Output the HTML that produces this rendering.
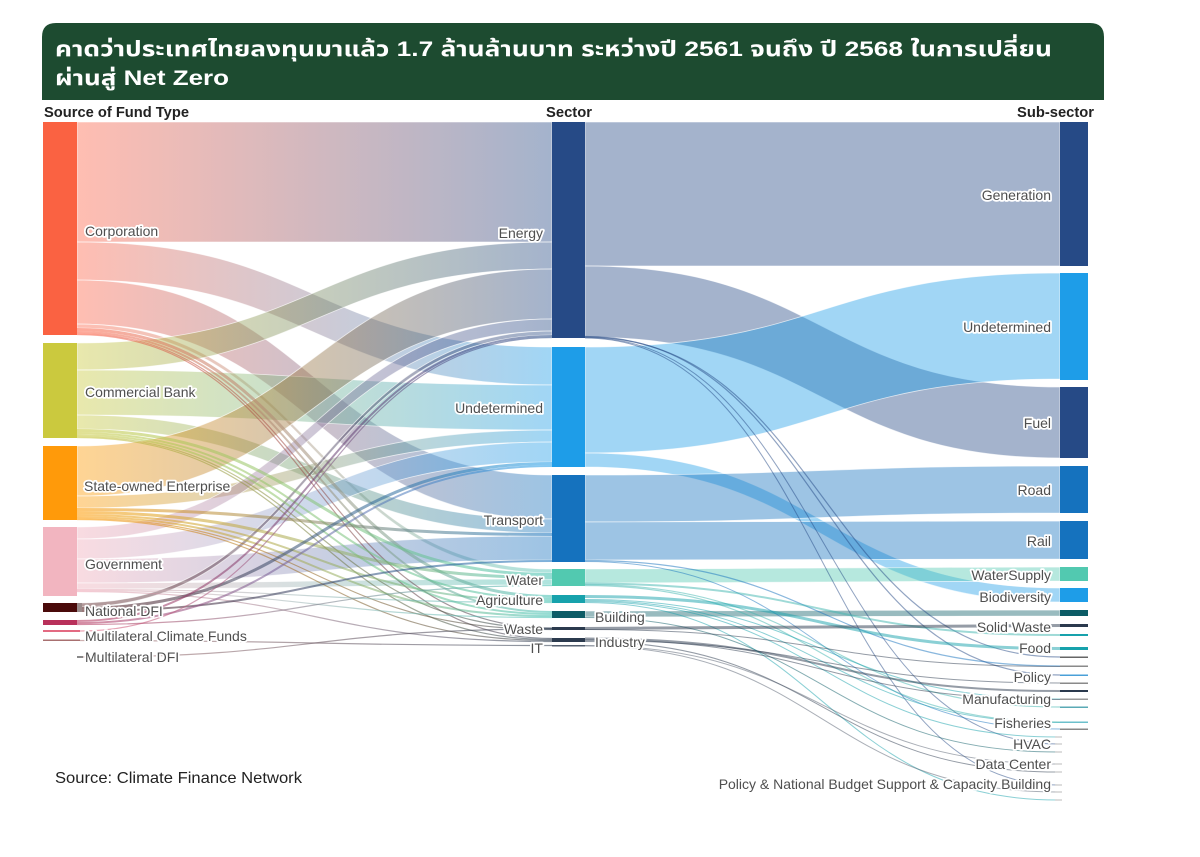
<!DOCTYPE html>
<html>
<head>
<meta charset="utf-8">
<style>
html,body{margin:0;padding:0;background:#fff;}
svg{display:block;}
.lbl{font-family:"Liberation Sans",Arial,sans-serif;font-size:14px;fill:#4f4f4f;paint-order:stroke;stroke:#fff;stroke-width:3.5px;stroke-linejoin:round;}
.hdr{font-family:"Liberation Sans",Arial,sans-serif;font-size:14.5px;font-weight:bold;fill:#222;}
</style>
</head>
<body>
<svg width="1200" height="857" viewBox="0 0 1200 857" xmlns="http://www.w3.org/2000/svg">
<defs>
<linearGradient id="cE" gradientUnits="userSpaceOnUse" x1="77" y1="0" x2="552" y2="0"><stop offset="0" stop-color="#ff6347"/><stop offset="1" stop-color="#264a86"/></linearGradient>
<linearGradient id="cU" gradientUnits="userSpaceOnUse" x1="77" y1="0" x2="552" y2="0"><stop offset="0" stop-color="#ff6347"/><stop offset="1" stop-color="#1e9de8"/></linearGradient>
<linearGradient id="cT" gradientUnits="userSpaceOnUse" x1="77" y1="0" x2="552" y2="0"><stop offset="0" stop-color="#ff6347"/><stop offset="1" stop-color="#1572be"/></linearGradient>
<linearGradient id="cW" gradientUnits="userSpaceOnUse" x1="77" y1="0" x2="552" y2="0"><stop offset="0" stop-color="#ff6347"/><stop offset="1" stop-color="#3fbfb0"/></linearGradient>
<linearGradient id="cD" gradientUnits="userSpaceOnUse" x1="77" y1="0" x2="552" y2="0"><stop offset="0" stop-color="#ff6347"/><stop offset="1" stop-color="#2b3a4e"/></linearGradient>
<linearGradient id="bE" gradientUnits="userSpaceOnUse" x1="77" y1="0" x2="552" y2="0"><stop offset="0" stop-color="#c9c83a"/><stop offset="1" stop-color="#264a86"/></linearGradient>
<linearGradient id="bU" gradientUnits="userSpaceOnUse" x1="77" y1="0" x2="552" y2="0"><stop offset="0" stop-color="#c9c83a"/><stop offset="1" stop-color="#1e9de8"/></linearGradient>
<linearGradient id="bT" gradientUnits="userSpaceOnUse" x1="77" y1="0" x2="552" y2="0"><stop offset="0" stop-color="#c9c83a"/><stop offset="1" stop-color="#1572be"/></linearGradient>
<linearGradient id="bW" gradientUnits="userSpaceOnUse" x1="77" y1="0" x2="552" y2="0"><stop offset="0" stop-color="#c9c83a"/><stop offset="1" stop-color="#3fbfb0"/></linearGradient>
<linearGradient id="bD" gradientUnits="userSpaceOnUse" x1="77" y1="0" x2="552" y2="0"><stop offset="0" stop-color="#c9c83a"/><stop offset="1" stop-color="#2b3a4e"/></linearGradient>
<linearGradient id="sE" gradientUnits="userSpaceOnUse" x1="77" y1="0" x2="552" y2="0"><stop offset="0" stop-color="#ff9a00"/><stop offset="1" stop-color="#264a86"/></linearGradient>
<linearGradient id="sU" gradientUnits="userSpaceOnUse" x1="77" y1="0" x2="552" y2="0"><stop offset="0" stop-color="#ff9a00"/><stop offset="1" stop-color="#1e9de8"/></linearGradient>
<linearGradient id="sT" gradientUnits="userSpaceOnUse" x1="77" y1="0" x2="552" y2="0"><stop offset="0" stop-color="#ff9a00"/><stop offset="1" stop-color="#1572be"/></linearGradient>
<linearGradient id="sW" gradientUnits="userSpaceOnUse" x1="77" y1="0" x2="552" y2="0"><stop offset="0" stop-color="#ff9a00"/><stop offset="1" stop-color="#3fbfb0"/></linearGradient>
<linearGradient id="sD" gradientUnits="userSpaceOnUse" x1="77" y1="0" x2="552" y2="0"><stop offset="0" stop-color="#ff9a00"/><stop offset="1" stop-color="#2b3a4e"/></linearGradient>
<linearGradient id="gE" gradientUnits="userSpaceOnUse" x1="77" y1="0" x2="552" y2="0"><stop offset="0" stop-color="#f0aab8"/><stop offset="1" stop-color="#264a86"/></linearGradient>
<linearGradient id="gU" gradientUnits="userSpaceOnUse" x1="77" y1="0" x2="552" y2="0"><stop offset="0" stop-color="#f0aab8"/><stop offset="1" stop-color="#1e9de8"/></linearGradient>
<linearGradient id="gT" gradientUnits="userSpaceOnUse" x1="77" y1="0" x2="552" y2="0"><stop offset="0" stop-color="#f0aab8"/><stop offset="1" stop-color="#1572be"/></linearGradient>
<linearGradient id="gW" gradientUnits="userSpaceOnUse" x1="77" y1="0" x2="552" y2="0"><stop offset="0" stop-color="#f0aab8"/><stop offset="1" stop-color="#3fbfb0"/></linearGradient>
<linearGradient id="gD" gradientUnits="userSpaceOnUse" x1="77" y1="0" x2="552" y2="0"><stop offset="0" stop-color="#f0aab8"/><stop offset="1" stop-color="#2b3a4e"/></linearGradient>
<linearGradient id="nE" gradientUnits="userSpaceOnUse" x1="77" y1="0" x2="552" y2="0"><stop offset="0" stop-color="#4a0c0c"/><stop offset="1" stop-color="#264a86"/></linearGradient>
<linearGradient id="nU" gradientUnits="userSpaceOnUse" x1="77" y1="0" x2="552" y2="0"><stop offset="0" stop-color="#4a0c0c"/><stop offset="1" stop-color="#1e9de8"/></linearGradient>
<linearGradient id="nT" gradientUnits="userSpaceOnUse" x1="77" y1="0" x2="552" y2="0"><stop offset="0" stop-color="#4a0c0c"/><stop offset="1" stop-color="#1572be"/></linearGradient>
<linearGradient id="oE" gradientUnits="userSpaceOnUse" x1="77" y1="0" x2="552" y2="0"><stop offset="0" stop-color="#b5305a"/><stop offset="1" stop-color="#264a86"/></linearGradient>
<linearGradient id="oU" gradientUnits="userSpaceOnUse" x1="77" y1="0" x2="552" y2="0"><stop offset="0" stop-color="#b5305a"/><stop offset="1" stop-color="#1e9de8"/></linearGradient>
<linearGradient id="oW" gradientUnits="userSpaceOnUse" x1="77" y1="0" x2="552" y2="0"><stop offset="0" stop-color="#b5305a"/><stop offset="1" stop-color="#3fbfb0"/></linearGradient>
<linearGradient id="mE" gradientUnits="userSpaceOnUse" x1="77" y1="0" x2="552" y2="0"><stop offset="0" stop-color="#e05a78"/><stop offset="1" stop-color="#264a86"/></linearGradient>
<linearGradient id="mD" gradientUnits="userSpaceOnUse" x1="77" y1="0" x2="552" y2="0"><stop offset="0" stop-color="#a87070"/><stop offset="1" stop-color="#2b3a4e"/></linearGradient>
</defs>

<rect x="0" y="0" width="1200" height="857" fill="#ffffff"/>

<!-- Header -->
<path d="M42,100 L42,37 Q42,23 56,23 L1090,23 Q1104,23 1104,37 L1104,100 Z" fill="#1d4b30"/>
<text x="55" y="56" font-family="'Liberation Sans','Noto Sans Thai','Tlwg Typo','Loma','Garuda',sans-serif" font-size="21" font-weight="bold" fill="#ffffff" textLength="997" lengthAdjust="spacingAndGlyphs">คาดว่าประเทศไทยลงทุนมาแล้ว 1.7 ล้านล้านบาท ระหว่างปี 2561 จนถึง ปี 2568 ในการเปลี่ยน</text>
<text x="55" y="85" font-family="'Liberation Sans','Noto Sans Thai','Tlwg Typo','Loma','Garuda',sans-serif" font-size="21" font-weight="bold" fill="#ffffff" textLength="174" lengthAdjust="spacingAndGlyphs">ผ่านสู่ Net Zero</text>

<!-- Column headers -->
<text class="hdr" x="44" y="117" textLength="145" lengthAdjust="spacingAndGlyphs">Source of Fund Type</text>
<text class="hdr" x="546" y="117" textLength="46" lengthAdjust="spacingAndGlyphs">Sector</text>
<text class="hdr" x="1017" y="117" textLength="77" lengthAdjust="spacingAndGlyphs">Sub-sector</text>

<!-- Left links (filled) -->
<g fill-opacity="0.42" stroke="#ffffff" stroke-width="0.8" stroke-opacity="0.7">
<path fill="url(#cE)" d="M77,122 L552,122 L552,242 L77,242 Z"/>
<path fill="url(#cU)" d="M77,242 C314.5,242 314.5,347 552,347 L552,385 C314.5,385 314.5,280 77,280 Z"/>
<path fill="url(#cT)" d="M77,280 C314.5,280 314.5,475 552,475 L552,519 C314.5,519 314.5,324 77,324 Z"/>
<path fill="url(#cW)" d="M77,324 C314.5,324 314.5,569 552,569 L552,573 C314.5,573 314.5,328 77,328 Z"/>
<path fill="url(#bE)" d="M77,343 C314.5,343 314.5,242 552,242 L552,269 C314.5,269 314.5,370 77,370 Z"/>
<path fill="url(#bU)" d="M77,370 C314.5,370 314.5,385 552,385 L552,430 C314.5,430 314.5,415 77,415 Z"/>
<path fill="url(#bT)" d="M77,415 C314.5,415 314.5,519 552,519 L552,533 C314.5,533 314.5,429 77,429 Z"/>
<path fill="url(#sE)" d="M77,446 C314.5,446 314.5,269 552,269 L552,319 C314.5,319 314.5,496 77,496 Z"/>
<path fill="url(#sU)" d="M77,496 C314.5,496 314.5,430 552,430 L552,442 C314.5,442 314.5,508 77,508 Z"/>
<path fill="url(#gE)" d="M77,527 C314.5,527 314.5,319 552,319 L552,331 C314.5,331 314.5,539 77,539 Z"/>
<path fill="url(#gU)" d="M77,539 C314.5,539 314.5,442 552,442 L552,462 C314.5,462 314.5,559 77,559 Z"/>
<path fill="url(#gT)" d="M77,559 C314.5,559 314.5,536 552,536 L552,560 C314.5,560 314.5,583 77,583 Z"/>
<path fill="url(#gW)" d="M77,583 C314.5,583 314.5,579 552,579 L552,585 C314.5,585 314.5,589 77,589 Z"/>
<path fill="url(#nE)" d="M77,603 C314.5,603 314.5,331 552,331 L552,335 C314.5,335 314.5,607 77,607 Z"/>
</g>

<!-- Left links (thin) -->
<g fill="none" stroke-opacity="0.55">
<path stroke="url(#cW)" stroke-width="3" d="M77,329.5 C314.5,329.5 314.5,596.5 552,596.5"/>
<path stroke="url(#cW)" stroke-width="2" d="M77,332 C314.5,332 314.5,612 552,612"/>
<path stroke="url(#cD)" stroke-width="1.2" d="M77,333.5 C314.5,333.5 314.5,628 552,628"/>
<path stroke="url(#cD)" stroke-width="1.2" d="M77,334.5 C314.5,334.5 314.5,638.5 552,638.5"/>
<path stroke="url(#bW)" stroke-width="3" d="M77,430.5 C314.5,430.5 314.5,574.5 552,574.5"/>
<path stroke="url(#bW)" stroke-width="2" d="M77,433 C314.5,433 314.5,599 552,599"/>
<path stroke="url(#bW)" stroke-width="2" d="M77,435 C314.5,435 314.5,614 552,614"/>
<path stroke="url(#bD)" stroke-width="1.2" d="M77,436.5 C314.5,436.5 314.5,628.5 552,628.5"/>
<path stroke="url(#bD)" stroke-width="1.2" d="M77,437.5 C314.5,437.5 314.5,639.5 552,639.5"/>
<path stroke="url(#sT)" stroke-width="3" d="M77,509.5 C314.5,509.5 314.5,534.5 552,534.5"/>
<path stroke="url(#sW)" stroke-width="3" d="M77,512.5 C314.5,512.5 314.5,577.5 552,577.5"/>
<path stroke="url(#sW)" stroke-width="2" d="M77,515 C314.5,515 314.5,601 552,601"/>
<path stroke="url(#sW)" stroke-width="2" d="M77,517 C314.5,517 314.5,616 552,616"/>
<path stroke="url(#sD)" stroke-width="1.2" d="M77,518.5 C314.5,518.5 314.5,629.5 552,629.5"/>
<path stroke="url(#sD)" stroke-width="1.2" d="M77,519.5 C314.5,519.5 314.5,640.5 552,640.5"/>
<path stroke="url(#gW)" stroke-width="1.2" d="M77,589.5 C314.5,589.5 314.5,602.5 552,602.5"/>
<path stroke="url(#gW)" stroke-width="1.2" d="M77,590.5 C314.5,590.5 314.5,617.5 552,617.5"/>
<path stroke="url(#gD)" stroke-width="1.2" d="M77,591.5 C314.5,591.5 314.5,641.5 552,641.5"/>
<path stroke="url(#nU)" stroke-width="3" d="M77,608.5 C314.5,608.5 314.5,463.5 552,463.5"/>
<path stroke="url(#nT)" stroke-width="2" d="M77,611 C314.5,611 314.5,561 552,561"/>
<path stroke="url(#oE)" stroke-width="2" d="M77,621 C314.5,621 314.5,336 552,336"/>
<path stroke="url(#oU)" stroke-width="2" d="M77,623 C314.5,623 314.5,466 552,466"/>
<path stroke="url(#oW)" stroke-width="1.2" d="M77,624.5 C314.5,624.5 314.5,585.5 552,585.5"/>
<path stroke="url(#mE)" stroke-width="1.2" d="M80,631 C314.5,631 314.5,337.5 552,337.5"/>
<path stroke="url(#mD)" stroke-width="1.2" d="M80,640.5 C314.5,640.5 314.5,645.5 552,645.5"/>
<path stroke="url(#mD)" stroke-width="1.2" d="M80,657 C314.5,657 314.5,629 552,629"/>
</g>

<!-- Right links (filled) -->
<g fill-opacity="0.42" stroke="#ffffff" stroke-width="0.8" stroke-opacity="0.7">
<path fill="#264a86" d="M585,122 L1060,122 L1060,266 L585,266 Z"/>
<path fill="#264a86" d="M585,266 C822.5,266 822.5,387 1060,387 L1060,458 C822.5,458 822.5,337 585,337 Z"/>
<path fill="#1e9de8" d="M585,347 C822.5,347 822.5,273 1060,273 L1060,379 C822.5,379 822.5,453 585,453 Z"/>
<path fill="#1e9de8" d="M585,453 C822.5,453 822.5,588 1060,588 L1060,602 C822.5,602 822.5,467 585,467 Z"/>
<path fill="#1572be" d="M585,475 C822.5,475 822.5,466 1060,466 L1060,513 C822.5,513 822.5,522 585,522 Z"/>
<path fill="#1572be" d="M585,522 C822.5,522 822.5,521 1060,521 L1060,559 C822.5,559 822.5,560 585,560 Z"/>
<path fill="#52c9b0" d="M585,569 C822.5,569 822.5,567 1060,567 L1060,581 C822.5,581 822.5,583 585,583 Z"/>
<path fill="#0c5c66" d="M585,611 C822.5,611 822.5,610 1060,610 L1060,616 C822.5,616 822.5,617 585,617 Z"/>
</g>

<!-- Right links (thin) -->
<g fill="none" stroke-opacity="0.5">
<path stroke="#264a86" stroke-width="1.2" d="M585,336.5 C822.5,336.5 822.5,675 1060,675"/>
<path stroke="#264a86" stroke-width="1.2" d="M585,337 C822.5,337 822.5,657 1060,657"/>
<path stroke="#264a86" stroke-width="1" d="M585,337.5 C822.5,337.5 822.5,744 1058,744"/>
<path stroke="#264a86" stroke-width="1" d="M585,338 C822.5,338 822.5,785 1058,785"/>
<path stroke="#1572be" stroke-width="1.2" d="M585,560.5 C822.5,560.5 822.5,666 1060,666"/>
<path stroke="#1572be" stroke-width="1" d="M585,561.5 C822.5,561.5 822.5,729 1060,729"/>
<path stroke="#3fb5b0" stroke-width="2" d="M585,583.5 C822.5,583.5 822.5,635 1060,635"/>
<path stroke="#3fb5b0" stroke-width="1.2" d="M585,584.5 C822.5,584.5 822.5,707 1060,707"/>
<path stroke="#3fb5b0" stroke-width="1.2" d="M585,585.5 C822.5,585.5 822.5,722 1060,722"/>
<path stroke="#17a2ac" stroke-width="3" d="M585,596.5 C822.5,596.5 822.5,648.5 1060,648.5"/>
<path stroke="#17a2ac" stroke-width="1" d="M585,599.5 C822.5,599.5 822.5,699 1060,699"/>
<path stroke="#17a2ac" stroke-width="1" d="M585,600.5 C822.5,600.5 822.5,722.5 1060,722.5"/>
<path stroke="#17a2ac" stroke-width="1" d="M585,601.5 C822.5,601.5 822.5,737 1058,737"/>
<path stroke="#17a2ac" stroke-width="1" d="M585,602.5 C822.5,602.5 822.5,800 1058,800"/>
<path stroke="#0c5c66" stroke-width="1" d="M585,617.5 C822.5,617.5 822.5,752 1058,752"/>
<path stroke="#2b3a4e" stroke-width="3" d="M585,628.5 C822.5,628.5 822.5,625.5 1060,625.5"/>
<path stroke="#2b3a4e" stroke-width="1" d="M585,629.5 C822.5,629.5 822.5,666.5 1060,666.5"/>
<path stroke="#2b3a4e" stroke-width="2" d="M585,638.5 C822.5,638.5 822.5,691 1060,691"/>
<path stroke="#2b3a4e" stroke-width="1" d="M585,639.5 C822.5,639.5 822.5,699.5 1060,699.5"/>
<path stroke="#2b3a4e" stroke-width="1" d="M585,640.5 C822.5,640.5 822.5,683 1060,683"/>
<path stroke="#2b3a4e" stroke-width="1" d="M585,641.5 C822.5,641.5 822.5,772 1058,772"/>
<path stroke="#556070" stroke-width="1" d="M585,645.5 C822.5,645.5 822.5,764 1058,764"/>
<path stroke="#556070" stroke-width="1" d="M585,646 C822.5,646 822.5,792 1058,792"/>
</g>

<!-- Left nodes -->
<rect x="43" y="122" width="34" height="213" fill="#fa6242"/>
<rect x="43" y="343" width="34" height="95" fill="#cbc93e"/>
<rect x="43" y="446" width="34" height="74" fill="#ff9a0a"/>
<rect x="43" y="527" width="34" height="69" fill="#f2b5c0"/>
<rect x="43" y="603" width="34" height="9" fill="#4a0a0a"/>
<rect x="77" y="603" width="5" height="9" fill="#9a8a8a"/>
<rect x="43" y="620" width="34" height="5" fill="#b8305a"/>
<rect x="43" y="630" width="37" height="2" fill="#e36a82"/>
<rect x="43" y="639.5" width="37" height="1.5" fill="#a87070"/>
<rect x="77" y="656" width="6" height="2" fill="#888888"/>

<!-- Middle nodes -->
<rect x="552" y="122" width="33" height="216" fill="#264a86"/>
<rect x="552" y="347" width="33" height="120" fill="#1e9de8"/>
<rect x="552" y="475" width="33" height="87" fill="#1572be"/>
<rect x="552" y="569" width="33" height="17" fill="#52c9b0"/>
<rect x="552" y="595" width="33" height="8" fill="#17a2ac"/>
<rect x="552" y="611" width="33" height="7" fill="#0c5c66"/>
<rect x="552" y="627" width="33" height="3" fill="#2b3a4e"/>
<rect x="552" y="638" width="33" height="4" fill="#2b3a4e"/>
<rect x="552" y="645" width="33" height="1.5" fill="#556070"/>

<!-- Right nodes -->
<rect x="1060" y="122" width="28" height="144" fill="#264a86"/>
<rect x="1060" y="273" width="28" height="107" fill="#1e9de8"/>
<rect x="1060" y="387" width="28" height="71" fill="#264a86"/>
<rect x="1060" y="466" width="28" height="47" fill="#1572be"/>
<rect x="1060" y="521" width="28" height="38" fill="#1572be"/>
<rect x="1060" y="567" width="28" height="14" fill="#52c9b0"/>
<rect x="1060" y="588" width="28" height="14" fill="#1e9de8"/>
<rect x="1060" y="610" width="28" height="6" fill="#0c5c66"/>
<rect x="1060" y="624" width="28" height="3" fill="#2b3a4e"/>
<rect x="1060" y="634" width="28" height="2" fill="#17a2ac"/>
<rect x="1060" y="647" width="28" height="3" fill="#17a2ac"/>
<rect x="1060" y="656.5" width="28" height="1.5" fill="#666666"/>
<rect x="1060" y="665.5" width="28" height="1.5" fill="#8a8a8a"/>
<rect x="1060" y="674.5" width="28" height="1.5" fill="#4aa0d8"/>
<rect x="1060" y="682.5" width="28" height="1.5" fill="#8a8a8a"/>
<rect x="1060" y="690" width="28" height="2" fill="#2b3a4e"/>
<rect x="1060" y="698.5" width="28" height="1.5" fill="#999999"/>
<rect x="1060" y="706.5" width="28" height="1.5" fill="#5aaab5"/>
<rect x="1060" y="721.5" width="28" height="1.5" fill="#6cc0cc"/>
<rect x="1060" y="728.5" width="28" height="1.5" fill="#888888"/>
<g fill="#bbbbbb">
<rect x="1055" y="736.5" width="7" height="1"/>
<rect x="1055" y="743.5" width="7" height="1"/>
<rect x="1055" y="751.5" width="7" height="1"/>
<rect x="1055" y="763.5" width="7" height="1"/>
<rect x="1055" y="771.5" width="7" height="1"/>
<rect x="1055" y="784.5" width="7" height="1"/>
<rect x="1055" y="791.5" width="7" height="1"/>
<rect x="1055" y="799.5" width="7" height="1"/>
</g>

<!-- Left labels -->
<text class="lbl" x="85" y="236">Corporation</text>
<text class="lbl" x="85" y="397">Commercial Bank</text>
<text class="lbl" x="84" y="491">State-owned Enterprise</text>
<text class="lbl" x="85" y="569">Government</text>
<text class="lbl" x="85" y="616">National DFI</text>
<text class="lbl" x="85" y="641">Multilateral Climate Funds</text>
<text class="lbl" x="85" y="662">Multilateral DFI</text>

<!-- Middle labels -->
<text class="lbl" x="543" y="238" text-anchor="end">Energy</text>
<text class="lbl" x="543" y="413" text-anchor="end">Undetermined</text>
<text class="lbl" x="543" y="525" text-anchor="end">Transport</text>
<text class="lbl" x="543" y="585" text-anchor="end">Water</text>
<text class="lbl" x="543" y="605" text-anchor="end">Agriculture</text>
<text class="lbl" x="543" y="634" text-anchor="end">Waste</text>
<text class="lbl" x="543" y="653" text-anchor="end">IT</text>
<text class="lbl" x="595" y="622">Building</text>
<text class="lbl" x="595" y="647">Industry</text>

<!-- Right labels -->
<text class="lbl" x="1051" y="200" text-anchor="end">Generation</text>
<text class="lbl" x="1051" y="332" text-anchor="end">Undetermined</text>
<text class="lbl" x="1051" y="428" text-anchor="end">Fuel</text>
<text class="lbl" x="1051" y="495" text-anchor="end">Road</text>
<text class="lbl" x="1051" y="546" text-anchor="end">Rail</text>
<text class="lbl" x="1051" y="580" text-anchor="end">WaterSupply</text>
<text class="lbl" x="1051" y="602" text-anchor="end">Biodiversity</text>
<text class="lbl" x="1051" y="632" text-anchor="end">Solid Waste</text>
<text class="lbl" x="1051" y="653" text-anchor="end">Food</text>
<text class="lbl" x="1051" y="682" text-anchor="end">Policy</text>
<text class="lbl" x="1051" y="704" text-anchor="end">Manufacturing</text>
<text class="lbl" x="1051" y="728" text-anchor="end">Fisheries</text>
<text class="lbl" x="1051" y="749" text-anchor="end">HVAC</text>
<text class="lbl" x="1051" y="769" text-anchor="end">Data Center</text>
<text class="lbl" x="1051" y="789" text-anchor="end">Policy &amp; National Budget Support &amp; Capacity Building</text>

<!-- Source -->
<text x="55" y="783" font-family="'Liberation Sans',Arial,sans-serif" font-size="16" fill="#222" textLength="247" lengthAdjust="spacingAndGlyphs">Source: Climate Finance Network</text>
</svg>
</body>
</html>
